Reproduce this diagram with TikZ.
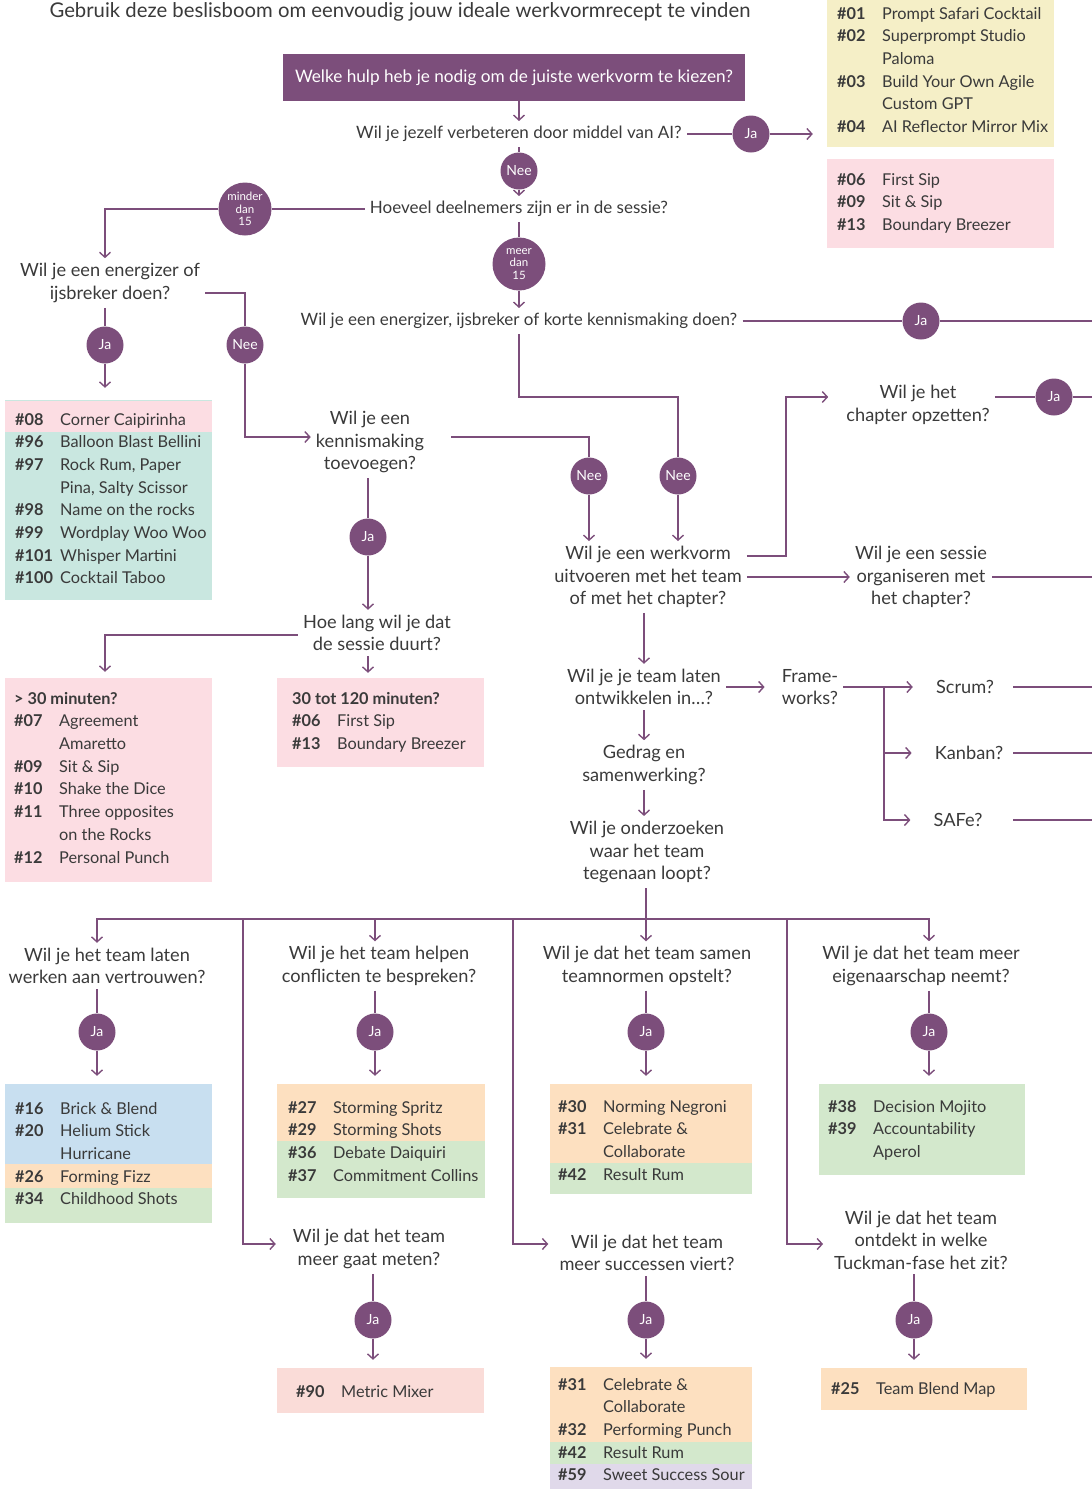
\documentclass[tikz,border=0pt]{standalone}
\usepackage{fontspec}
\setmainfont{Lato}
\usepackage{tikz}
\usetikzlibrary{arrows.meta,fit}
\definecolor{plum}{HTML}{7C4E7B}
\definecolor{ink}{HTML}{3A3A3A}
\definecolor{lemon}{HTML}{F5EFC7}
\definecolor{blush}{HTML}{FCDDE3}
\definecolor{teal}{HTML}{C9E7E0}
\definecolor{sky}{HTML}{C8DFF0}
\definecolor{peach}{HTML}{FDE0C0}
\definecolor{mint}{HTML}{D3E8CC}
\definecolor{lilac}{HTML}{E0D9EA}
\definecolor{salmon}{HTML}{FADCD8}
\newcommand{\qfont}{\fontsize{18.2}{22.5}\selectfont}
\newcommand{\topfont}{\fontsize{17}{22.5}\selectfont}
\newcommand{\cardfont}{\fontsize{16.3}{22.7}\selectfont}
\newcommand{\nr}[1]{\strut\makebox[45pt][l]{\bfseries\##1}}
\newcommand{\ind}{\hspace*{45pt}}
\newcommand{\card}[4]{\node[fit={(#2) (#3)},inner sep=0pt,fill=#4] (#1) {};}
\tikzset{
  q/.style={font=\qfont,text=ink,align=center,inner sep=5pt},
  topq/.style={q,font=\topfont},
  yes/.style={circle,fill=plum,text=white,minimum size=37pt,inner sep=0pt,font=\fontsize{14}{16}\selectfont},
  big/.style={yes,minimum size=53pt,align=center,font=\fontsize{11.5}{12.5}\selectfont},
  rows/.style={font=\cardfont,text=ink,align=left,inner sep=0pt,anchor=north west},
  link/.style={draw=plum,line width=1.4pt},
  arr/.style={link,-{Straight Barb[length=5pt,width=11pt]}}
}

\begin{document}
\begin{tikzpicture}[x=1pt,y=-1pt]
  \useasboundingbox (0,0) rectangle (1092,1489);
  \clip (0,0) rectangle (1092,1489);
  \coordinate (edge) at (1092,0);
  \coordinate (rcol) at (1013,0);

  % kop
  \node[font=\fontsize{20.3}{24}\selectfont,text=ink,anchor=base] (title) at (400,17) {Gebruik deze beslisboom om eenvoudig jouw ideale werkvormrecept te vinden};
  \node[fill=plum,text=white,font=\fontsize{17.2}{20}\selectfont,minimum width=462pt,minimum height=47pt] (start) at (514,77.5) {Welke hulp heb je nodig om de juiste werkvorm te kiezen?};

  % kaarten
  \card{ai}{827,-5}{1054,147}{lemon}
  \node[rows] (aitxt) at (837,14-11) {\nr{01}Prompt Safari Cocktail\\ \nr{02}Superprompt Studio\\ \ind Paloma\\ \nr{03}Build Your Own Agile\\ \ind Custom GPT\\ \nr{04}AI Reflector Mirror Mix};
  \card{sip}{827,159}{1054,248}{blush}
  \node[rows] (siptxt) at (837,180-11) {\nr{06}First Sip\\ \nr{09}Sit \& Sip\\ \nr{13}Boundary Breezer};
  \card{ice}{5,400}{212,600}{teal}
  \fill[blush] (5,401) rectangle (212,432);
  \node[rows] (icetxt) at (15,420-11) {\nr{08}Corner Caipirinha\\ \nr{96}Balloon Blast Bellini\\ \nr{97}Rock Rum, Paper\\ \ind Pina, Salty Scissor\\ \nr{98}Name on the rocks\\ \nr{99}Wordplay Woo Woo\\ \nr{101}Whisper Martini\\ \nr{100}Cocktail Taboo};
  \card{dur1}{5,678}{212,882}{blush}
  \node[rows] (dur1txt) at (14,699-11) {\strut\textbf{> 30 minuten?}\\ \nr{07}Agreement\\ \ind Amaretto\\ \nr{09}Sit \& Sip\\ \nr{10}Shake the Dice\\ \nr{11}Three opposites\\ \ind on the Rocks\\ \nr{12}Personal Punch};
  \card{dur2}{277,678}{484,767}{blush}
  \node[rows] (dur2txt) at (292,699-11) {\strut\textbf{30 tot 120 minuten?}\\ \nr{06}First Sip\\ \nr{13}Boundary Breezer};
  \card{c1}{5,1084}{212,1223}{sky}
  \fill[peach] (5,1164) rectangle (212,1188);
  \fill[mint] (5,1188) rectangle (212,1223);
  \node[rows] (c1txt) at (15,1109-11) {\nr{16}Brick \& Blend\\ \nr{20}Helium Stick\\ \ind Hurricane\\ \nr{26}Forming Fizz\\ \nr{34}Childhood Shots};
  \card{c2}{277,1084}{485,1198}{peach}
  \fill[mint] (277,1141) rectangle (485,1198);
  \node[rows] (c2txt) at (288,1108-11) {\nr{27}Storming Spritz\\ \nr{29}Storming Shots\\ \nr{36}Debate Daiquiri\\ \nr{37}Commitment Collins};
  \card{c3}{550,1084}{752,1194}{peach}
  \fill[mint] (550,1163) rectangle (752,1194);
  \node[rows] (c3txt) at (558,1107-11) {\nr{30}Norming Negroni\\ \nr{31}Celebrate \&\\ \ind Collaborate\\ \nr{42}Result Rum};
  \card{c4}{819,1084}{1025,1175}{mint}
  \node[rows] (c4txt) at (828,1107-11) {\nr{38}Decision Mojito\\ \nr{39}Accountability\\ \ind Aperol};
  \card{c5}{277,1368}{484,1413}{salmon}
  \node[rows] (c5txt) at (296,1392-11) {\nr{90}Metric Mixer};
  \card{c6}{550,1367}{752,1489}{peach}
  \fill[mint] (550,1442) rectangle (752,1464);
  \fill[lilac] (550,1464) rectangle (752,1489);
  \node[rows] (c6txt) at (558,1385-11) {\nr{31}Celebrate \&\\ \ind Collaborate\\ \nr{32}Performing Punch\\ \nr{42}Result Rum\\ \nr{59}Sweet Success Sour};
  \card{c7}{821,1368}{1027,1410}{peach}
  \node[rows] (c7txt) at (831,1389-11) {\nr{25}Team Blend Map};

  % bovenste vragen
  \node[topq] (q1) at (519,134) {Wil je jezelf verbeteren door middel van AI?};
  \node[yes] (j1) at (751,134) {Ja};
  \node[yes] (n1) at (519,171) {Nee};
  \node[topq] (q2) at (519,209) {Hoeveel deelnemers zijn er in de sessie?};
  \node[big] (min15) at (245,209) {minder\\dan\\15};
  \node[big] (meer15) at (519,264) {meer\\dan\\15};
  \node[topq] (q3) at (519,321) {Wil je een energizer, ijsbreker of korte kennismaking doen?};
  \node[yes] (j3) at (921,321) {Ja};
  \coordinate (bend3) at (678,397);

  \draw[arr] (start.south -| n1) -- (q1);
  \draw[link] (q1) -- (j1);
  \draw[arr,shorten >=14pt] (j1) -- (j1 -| ai.west);
  \draw[link] (q1) -- (n1);
  \draw[arr] (n1) -- (q2);
  \draw[link] (q2) -- (min15);
  \draw[link] (q2) -- (meer15);
  \draw[arr] (meer15) -- (q3);
  \draw[link] (q3) -- (j3) -- (j3 -| edge);

  % kleine groep
  \node[q] (qe) at (110,283) {Wil je een energizer of\\ijsbreker doen?};
  \node[yes] (j2) at (105,345) {Ja};
  \node[yes] (n2) at (245,345) {Nee};
  \node[q] (qk) at (370,442) {Wil je een\\kennismaking\\toevoegen?};
  \node[yes] (j4) at (368,537) {Ja};
  \node[yes] (n4) at (589,476) {Nee};
  \node[yes] (n3) at (678,476) {Nee};
  \node[q] (qd) at (377,633) {Hoe lang wil je dat\\de sessie duurt?};

  \draw[arr] (min15) -| (j2 |- qe.north);
  \draw[link] (qe.south -| j2) -- (j2);
  \draw[arr,shorten >=12pt] (j2) -- (j2 |- ice.north);
  \draw[link] ([yshift=-10pt]qe.east) -| (n2);
  \draw[arr] (n2) |- ([yshift=5pt]qk.west);
  \draw[link,shorten <=22pt] ([yshift=5pt]qk.east) -| (n4);
  \draw[link] (qk.south -| j4) -- (j4);
  \draw[arr] (j4) -- (j4 |- qd.north);
  \draw[arr,shorten >=6pt] ([yshift=-2pt]qd.west) -| (j2 |- dur1.north);
  \draw[arr,shorten >=5pt] (qd.south -| j4) -- (j4 |- dur2.north);
  \draw[link] (q3) |- (bend3) -- (n3);

  % team of chapter
  \node[q] (qw) at (648,577) {Wil je een werkvorm\\uitvoeren met het team\\of met het chapter?};
  \node[q] (qc) at (918,405) {Wil je het\\chapter opzetten?};
  \node[yes] (j5) at (1054,397) {Ja};
  \node[q] (qs) at (921,577) {Wil je een sessie\\organiseren met\\het chapter?};

  \draw[arr] (n4) -- (n4 |- qw.north);
  \draw[arr] (n3) -- (n3 |- qw.north);
  \draw[arr,shorten >=13pt] ([yshift=21pt]qw.east) -- ++(39,0) |- ([yshift=8pt]qc.west);
  \draw[arr] (qw) -- (qs);
  \draw[link] ([yshift=8pt]qc.east) -- (j5);
  \draw[link] (j5) -- (j5 -| edge);
  \draw[link] (qs) -- (qs -| edge);

  % ontwikkelen
  \node[q] (qt) at (644,687) {Wil je je team laten\\ontwikkelen in…?};
  \node[q] (fw) at (810,687) {Frame-\\works?};
  \node[q] (scrum) at (965,687) {Scrum?};
  \node[q] (kanban) at (969,753) {Kanban?};
  \node[q] (safe) at (958,820) {SAFe?};
  \coordinate (fork) at (884,687);
  \node[q] (qg) at (644,765) {Gedrag en\\samenwerking?};
  \node[q] (qo) at (647,852) {Wil je onderzoeken\\waar het team\\tegenaan loopt?};

  \draw[arr] (qw.south -| qt) -- (qt);
  \draw[arr,shorten >=12pt] (qt) -- (fw);
  \draw[arr,shorten >=18pt] (fw) -- (scrum);
  \draw[arr,shorten >=18pt] (fork) |- (kanban);
  \draw[arr,shorten >=18pt] (fork) |- (safe);
  \draw[link] (scrum -| rcol) -- (scrum -| edge);
  \draw[link] (kanban -| rcol) -- (kanban -| edge);
  \draw[link] (safe -| rcol) -- (safe -| edge);
  \draw[arr] (qt) -- (qg);
  \draw[arr] (qg) -- (qg |- qo.north);

  % gedrag en samenwerking
  \node[q] (b1) at (107,966) {Wil je het team laten\\werken aan vertrouwen?};
  \node[q] (b2) at (379,966) {Wil je het team helpen\\conflicten te bespreken?};
  \node[q] (b3) at (647,966) {Wil je dat het team samen\\teamnormen opstelt?};
  \node[q] (b4) at (921,966) {Wil je dat het team meer\\eigenaarschap neemt?};
  \node[q] (b5) at (369,1249) {Wil je dat het team\\meer gaat meten?};
  \node[q] (b6) at (647,1253) {Wil je dat het team\\meer successen viert?};
  \node[q] (b7) at (921,1240) {Wil je dat het team\\ontdekt in welke\\Tuckman-fase het zit?};
  \node[yes] (jb1) at (97,1032) {Ja};
  \node[yes] (jb2) at (375,1032) {Ja};
  \node[yes] (jb3) at (646,1032) {Ja};
  \node[yes] (jb4) at (929,1032) {Ja};
  \node[yes] (jb5) at (373,1320) {Ja};
  \node[yes] (jb6) at (646,1320) {Ja};
  \node[yes] (jb7) at (914,1320) {Ja};
  \coordinate (bar) at (646,919);
  \coordinate (s1) at (243,919);
  \coordinate (s2) at (513,919);
  \coordinate (s3) at (787,919);

  \draw[link] (qo.south -| bar) -- (bar);
  \draw[arr] (bar) -| (jb1 |- b1.north);
  \draw[arr] (bar) -| (jb2 |- b2.north);
  \draw[arr] (bar) -- (jb3 |- b3.north);
  \draw[arr] (bar) -| (jb4 |- b4.north);
  \draw[arr,shorten >=12pt] (s1) |- ([yshift=5pt]b5.west);
  \draw[arr,shorten >=6pt] (s2) |- ([yshift=9pt]b6.west);
  \draw[arr,shorten >=6pt] (s3) |- ([yshift=-4pt]b7.west);
  \foreach \i in {1,...,7} {
    \draw[link] (b\i.south -| jb\i) -- (jb\i);
    \draw[arr,shorten >=8pt] (jb\i) -- (jb\i |- c\i.north);
  }
\end{tikzpicture}
\end{document}
